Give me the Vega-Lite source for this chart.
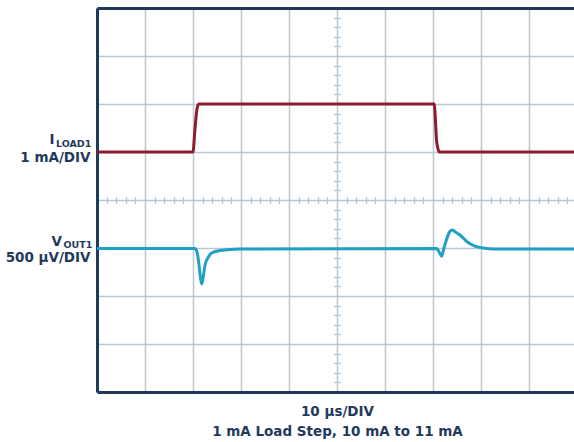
{
  "$schema": "https://vega.github.io/schema/vega-lite/v6.json",
  "width": 477,
  "height": 384,
  "autosize": {"type": "none"},
  "padding": {"left": 97, "top": 8, "right": 0, "bottom": 50},
  "background": "white",
  "config": {"view": {"stroke": null}, "font": "DejaVu Sans"},
  "datasets": {
    "iload": [
      {"t": 0, "v": 5}, {"t": 20.0, "v": 5}, {"t": 20.4, "v": 5.46}, {"t": 20.8, "v": 5.88},
      {"t": 21.2, "v": 6}, {"t": 70.25, "v": 6}, {"t": 70.5, "v": 5.67}, {"t": 70.7, "v": 5.29},
      {"t": 71.0, "v": 5.08}, {"t": 71.35, "v": 5}, {"t": 99.375, "v": 5}
    ],
    "vout": [
      {"t": 0, "v": 2.99}, {"t": 20.4, "v": 2.99}, {"t": 20.83, "v": 2.92}, {"t": 21.25, "v": 2.65},
      {"t": 21.56, "v": 2.38}, {"t": 21.81, "v": 2.25}, {"t": 22.08, "v": 2.37}, {"t": 22.5, "v": 2.64},
      {"t": 23.13, "v": 2.8}, {"t": 23.96, "v": 2.9}, {"t": 25.63, "v": 2.95}, {"t": 29.8, "v": 2.98},
      {"t": 70.77, "v": 2.99}, {"t": 71.25, "v": 2.92}, {"t": 71.81, "v": 2.83}, {"t": 72.29, "v": 3.0},
      {"t": 72.92, "v": 3.21}, {"t": 73.54, "v": 3.35}, {"t": 73.96, "v": 3.375}, {"t": 74.58, "v": 3.34},
      {"t": 75.63, "v": 3.27}, {"t": 77.08, "v": 3.13}, {"t": 78.75, "v": 3.04}, {"t": 80.42, "v": 3.0},
      {"t": 82.9, "v": 2.98}, {"t": 99.375, "v": 2.98}
    ],
    "symbols": [
      {"t": -8.85, "v": 5.16, "label": "I"},
      {"t": -7.28, "v": 3.05, "label": "V"}
    ],
    "subscripts": [
      {"t": -8.55, "v": 5.1, "label": "LOAD1"},
      {"t": -6.98, "v": 3.0, "label": "OUT1"}
    ],
    "scales": [
      {"t": -1.35, "v": 4.8, "label": "1 mA/DIV"},
      {"t": -1.35, "v": 2.7, "label": "500 µV/DIV"}
    ]
  },
  "layer": [
    {
      "data": {"name": "iload"},
      "mark": {"type": "line", "color": "#8c1d2f", "strokeWidth": 3, "interpolate": "monotone"},
      "encoding": {
        "x": {
          "field": "t", "type": "quantitative",
          "scale": {"domain": [0, 99.375], "nice": false, "zero": false},
          "axis": {
            "orient": "bottom", "values": [0, 10, 20, 30, 40, 50, 60, 70, 80, 90],
            "grid": true, "gridColor": "#b9c6d3", "gridWidth": 1.5, "gridOpacity": 1,
            "domain": true, "domainColor": "#1f3a5c", "domainWidth": 3,
            "ticks": false, "labels": false,
            "title": ["10 µs/DIV", "1 mA Load Step, 10 mA to 11 mA"],
            "titleFont": "DejaVu Sans", "titleFontSize": 13.5, "titleFontWeight": "bold",
            "titleColor": "#1f3a5c", "titleX": 240, "titleY": 23, "titleBaseline": "alphabetic",
            "titleAlign": "center", "titleLineHeight": 20
          }
        },
        "y": {
          "field": "v", "type": "quantitative",
          "scale": {"domain": [0, 8], "nice": false, "zero": false},
          "axis": {
            "orient": "left", "values": [0, 1, 2, 3, 4, 5, 6, 7, 8],
            "grid": true, "gridColor": "#b9c6d3", "gridWidth": 1.5, "gridOpacity": 1,
            "domain": true, "domainColor": "#1f3a5c", "domainWidth": 3,
            "ticks": false, "labels": false, "title": null
          }
        }
      }
    },
    {
      "data": {"name": "vout"},
      "mark": {"type": "line", "color": "#1fa0c4", "strokeWidth": 3, "interpolate": "monotone"},
      "encoding": {
        "x": {
          "field": "t", "type": "quantitative",
          "axis": {
            "orient": "top", "grid": false, "domain": true, "domainColor": "#1f3a5c", "domainWidth": 3,
            "ticks": false, "labels": false, "title": null
          }
        },
        "y": {
          "field": "v", "type": "quantitative",
          "axis": {
            "orient": "left", "offset": -243.5, "grid": false, "domain": false, "labels": false, "title": null,
            "ticks": true, "tickSize": 7, "tickColor": "#b9c6d3", "tickWidth": 1.3,
            "values": [0.2, 0.4, 0.6, 0.8, 1.2, 1.4, 1.6, 1.8, 2.2, 2.4, 2.6, 2.8, 3.2, 3.4, 3.6, 3.8, 4.2, 4.4, 4.6, 4.8, 5.2, 5.4, 5.6, 5.8, 6.2, 6.4, 6.6, 6.8, 7.2, 7.4, 7.6, 7.8]
          }
        }
      }
    },
    {
      "data": {"name": "symbols"},
      "mark": {"type": "text", "align": "right", "baseline": "alphabetic", "font": "DejaVu Sans", "fontWeight": "bold", "fontSize": 13.5, "color": "#1f3a5c"},
      "encoding": {
        "x": {
          "field": "t", "type": "quantitative",
          "axis": {
            "orient": "bottom", "offset": -195.5, "grid": false, "domain": false, "labels": false, "title": null,
            "ticks": true, "tickSize": 7, "tickColor": "#b9c6d3", "tickWidth": 1.3,
            "values": [2, 4, 6, 8, 12, 14, 16, 18, 22, 24, 26, 28, 32, 34, 36, 38, 42, 44, 46, 48, 52, 54, 56, 58, 62, 64, 66, 68, 72, 74, 76, 78, 82, 84, 86, 88, 92, 94, 96, 98]
          }
        },
        "y": {"field": "v", "type": "quantitative", "axis": null},
        "text": {"field": "label"}
      }
    },
    {
      "data": {"name": "subscripts"},
      "mark": {"type": "text", "align": "left", "baseline": "alphabetic", "font": "DejaVu Sans", "fontWeight": "bold", "fontSize": 9.5, "color": "#1f3a5c"},
      "encoding": {
        "x": {"field": "t", "type": "quantitative", "axis": null},
        "y": {"field": "v", "type": "quantitative", "axis": null},
        "text": {"field": "label"}
      }
    },
    {
      "data": {"name": "scales"},
      "mark": {"type": "text", "align": "right", "baseline": "alphabetic", "font": "DejaVu Sans", "fontWeight": "bold", "fontSize": 13.5, "color": "#1f3a5c"},
      "encoding": {
        "x": {"field": "t", "type": "quantitative", "axis": null},
        "y": {"field": "v", "type": "quantitative", "axis": null},
        "text": {"field": "label"}
      }
    }
  ],
  "resolve": {"axis": {"x": "independent", "y": "independent"}}
}
